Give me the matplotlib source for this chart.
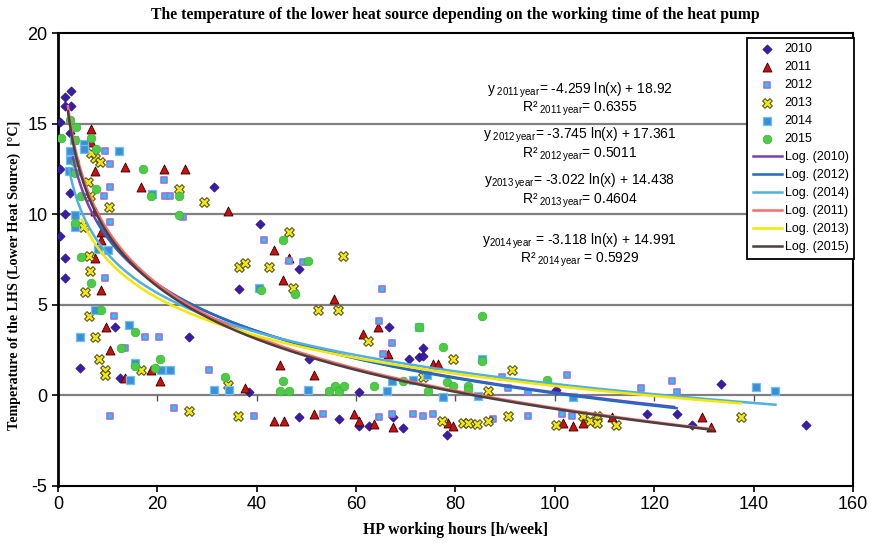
import matplotlib
matplotlib.use("Agg")
import matplotlib.pyplot as plt
import numpy as np

x2010 = [2.6, 1.5, 1.4, 2.6, 0.4, 2.4, 0.4, 2.4, 1.4, 0.4, 1.5, 1.4, 31.4, 11.5, 4.4, 12.5, 26.4, 40.6, 48.5, 36.4,
         50.5, 38.4, 60.6, 48.5, 56.5, 60.6, 62.5, 66.6, 73.4, 70.6, 72.6, 73.4, 67.4, 69.4, 78.3, 100.3, 118.5,
         124.5, 127.7, 133.5, 150.6]
y2010 = [16.8, 16.5, 16.0, 16.0, 15.1, 14.5, 12.5, 11.2, 10.0, 8.8, 7.6, 6.5, 11.5, 3.8, 1.5, 0.95, 3.2, 9.45, 7.0, 5.9,
         2.0, 0.2, 0.2, -1.2, -1.3, -1.7, -1.7, 3.8, 2.6, 2.0, 2.1, 2.2, -1.2, -1.8, -2.2, 0.28, -1.0,
         -1.0, -1.66, 0.65, -1.66]

x2011 = [6.6, 6.6, 13.5, 21.3, 25.6, 7.4, 16.7, 7.4, 34.2, 8.7, 8.7, 7.4, 8.6, 9.6, 10.5, 18.7, 20.5, 13.5, 43.5, 46.5,
         45.3, 55.5, 64.4, 61.3, 66.4, 44.7, 51.5, 37.6, 43.5, 45.5, 51.5, 59.6, 60.6, 63.6, 67.4, 75.5, 76.5, 78.5,
         79.5, 101.6, 103.6, 105.6, 111.5, 129.6, 131.5]
y2011 = [14.7, 14.0, 12.6, 12.5, 12.5, 12.4, 11.5, 10.2, 10.2, 9.0, 8.6, 7.6, 5.8, 3.8, 2.5, 1.4, 0.8, 0.95, 8.0, 7.6,
         6.35, 5.3, 3.8, 3.4, 2.3, 1.7, 1.1, 0.4, -1.4, -1.4, -1.0, -1.0, -1.4, -1.6, -1.75, 1.75, 1.75, -1.55,
         -1.7, -1.55, -1.7, -1.55, -1.2, -1.2, -1.75]

x2012 = [9.5, 10.5, 10.5, 9.3, 21.3, 21.5, 22.5, 10.5, 25.2, 9.5, 11.3, 17.5, 20.4, 13.5, 30.4, 23.3, 10.5, 41.4, 46.5,
         49.3, 65.3, 64.6, 67.3, 65.4, 39.4, 53.3, 64.6, 67.3, 71.4, 73.4, 75.5, 89.3, 90.5, 94.5, 102.4, 94.5, 87.5,
         101.5, 103.5, 117.4, 123.5, 124.5]
y2012 = [13.5, 12.8, 11.5, 11.0, 11.9, 11.0, 11.0, 9.6, 9.85, 6.5, 4.4, 3.2, 3.2, 2.6, 1.4, -0.7, -1.15, 8.6, 7.4,
         7.35, 5.9, 4.1, 2.9, 2.3, -1.15, -1.0, -1.2, -1.0, -1.0, -1.15, -1.0, 1.0, 0.4, 0.2, 1.1, -1.15, -1.3,
         -1.0, -1.15, 0.4, 0.8, 0.2]

x2013 = [7.4, 8.4, 6.6, 6.1, 6.4, 10.3, 24.3, 29.4, 6.2, 6.4, 5.0, 5.4, 6.3, 7.4, 8.3, 9.5, 9.5, 16.7, 34.2, 26.4,
         46.5, 36.4, 37.6, 42.5, 47.3, 57.3, 52.3, 56.3, 62.3, 73.4, 36.2, 77.2, 79.5, 91.3, 86.5, 81.5, 82.5, 84.4,
         86.5, 90.5, 100.3, 105.6, 107.0, 108.4, 108.4, 112.4, 137.4]
y2013 = [13.1, 12.9, 13.4, 11.8, 11.0, 10.4, 11.4, 10.7, 7.7, 6.85, 9.3, 5.7, 4.4, 3.2, 2.0, 1.4, 1.1, 1.4, 0.55, -0.87,
         9.0, 7.1, 7.3, 7.1, 5.95, 7.7, 4.7, 4.7, 3.0, 1.0, -1.15, -1.4, 2.0, 1.4, 0.24, -1.55, -1.5, -1.6,
         -1.4, -1.15, -1.65, -1.15, -1.4, -1.15, -1.55, -1.65, -1.2]

x2014 = [12.3, 5.2, 5.2, 2.4, 2.4, 3.2, 2.2, 3.4, 3.4, 18.9, 8.0, 10.0, 7.4, 4.4, 14.3, 15.5, 14.5, 20.7, 22.5, 31.4,
         34.4, 50.4, 40.5, 66.3, 67.3, 71.4, 72.7, 77.5, 74.2, 85.4, 84.6, 103.7, 140.4, 144.4]
y2014 = [13.5, 13.9, 13.6, 13.5, 13.0, 14.1, 12.4, 9.95, 9.3, 11.1, 8.1, 8.0, 4.7, 3.25, 3.9, 1.8, 0.87, 1.4, 1.4, 0.28,
         0.28, 0.28, 5.95, 0.24, 0.8, 0.87, 3.8, -0.1, 1.1, 2.0, -0.05, -0.1, 0.46, 0.24]

x2015 = [2.4, 3.6, 0.6, 3.4, 6.6, 7.6, 3.4, 3.4, 7.6, 4.6, 17.2, 18.7, 24.4, 24.4, 3.4, 4.6, 6.6, 8.6, 15.5, 12.7,
         20.5, 15.5, 19.5, 33.6, 45.3, 50.4, 40.8, 47.7, 45.3, 44.7, 46.5, 54.6, 55.7, 56.6, 57.6, 63.6, 72.7, 69.5,
         77.5, 74.5, 78.2, 85.4, 85.4, 79.5, 82.6, 82.6, 98.5]
y2015 = [15.2, 14.8, 14.2, 14.1, 14.2, 13.6, 12.9, 12.3, 11.4, 11.0, 12.5, 11.0, 11.0, 9.95, 9.5, 7.65, 6.2, 4.7, 3.5, 2.6,
         2.0, 1.6, 1.5, 1.0, 8.6, 7.4, 5.8, 5.6, 0.8, 0.24, 0.24, 0.24, 0.5, 0.24, 0.5, 0.5, 3.8, 0.8,
         2.7, 0.24, 0.73, 4.4, 1.9, 0.5, 0.5, 0.28, 0.86]

# log trendlines  y = a*ln(x) + b, drawn from x_start to x_end (legend order)
trend_years = ["2010", "2012", "2014", "2011", "2013", "2015"]
trend_a = [-3.7, -3.745, -3.118, -4.259, -3.022, -4.2]
trend_b = [17.2, 17.361, 14.991, 18.92, 14.438, 18.6]
trend_start = [3.0, 8.0, 2.2, 2.0, 4.8, 2.0]
trend_end = [124.0, 124.5, 144.4, 131.5, 137.4, 131.5]
trend_colors = ["#7b3fb5", "#1f6cc0", "#4fb0e2", "#ff6a6a", "#f5e800", "#4a4040"]

# equation labels (one block per fitted year)
equations = [
    r"y$_{\rm\ 2011\,year}$= -4.259 ln(x) + 18.92" + "\n" + r"R²$_{\rm\ 2011\,year}$= 0.6355",
    r"y$_{\rm\ 2012\,year}$= -3.745 ln(x) + 17.361" + "\n" + r"R²$_{\rm\ 2012\,year}$= 0.5011",
    r"y$_{\rm 2013\,year}$= -3.022 ln(x) + 14.438" + "\n" + r"R²$_{\rm\ 2013\,year}$= 0.4604",
    r"y$_{\rm 2014\,year}$ = -3.118 ln(x) + 14.991" + "\n" + r"R²$_{\rm\ 2014\,year}$ = 0.5929",
]
eq_y = [16.34, 13.84, 11.3, 7.99]

xticks = [0, 20, 40, 60, 80, 100, 120, 140, 160]
yticks = [-5, 0, 5, 10, 15, 20]

plt.rcParams["font.family"] = ["Liberation Sans", "DejaVu Sans"]
plt.rcParams["mathtext.fontset"] = "custom"
plt.rcParams["mathtext.rm"] = "Liberation Sans"
plt.rcParams["mathtext.it"] = "Liberation Sans"
plt.rcParams["axes.unicode_minus"] = False

fig = plt.figure(figsize=(8.71, 5.43), dpi=100)
ax = fig.add_axes([0.0666, 0.105, 0.9127, 0.834])

for gy in yticks[1:-1]:
    ax.axhline(gy, color="#7f7f7f", lw=1.6, zorder=1)

ax.scatter(x2010, y2010, marker="D", s=22, color="#3a1ca8", edgecolors="#2a1080", linewidths=0.5, zorder=3, label="2010")
ax.scatter(x2011, y2011, marker="^", s=42, color="#cc1010", edgecolors="#300000", linewidths=0.6, zorder=3, label="2011")
ax.scatter(x2012, y2012, marker="s", s=22, color="#2fc0ee", edgecolors="#a070d8", linewidths=1.2, zorder=3, label="2012")
ax.scatter(x2013, y2013, marker="X", s=50, color="#f2e51a", edgecolors="#333300", linewidths=0.6, zorder=3, label="2013")
ax.scatter(x2014, y2014, marker="s", s=28, color="#3a8fd8", edgecolors="#6fc0f0", linewidths=0.9, zorder=3, label="2014")
ax.scatter(x2015, y2015, marker="o", s=40, color="#4ccc44", edgecolors="#3aa838", linewidths=0.4, zorder=3, label="2015")

for yr, a, b, x0, x1, c in zip(trend_years, trend_a, trend_b, trend_start, trend_end, trend_colors):
    xs = np.geomspace(x0, x1, 300)
    ax.plot(xs, a * np.log(xs) + b, color=c, lw=1.8, zorder=4, label="Log. (" + yr + ")")

# small ticks hanging from the zero line
ax.plot(xticks[1:-1], np.zeros(len(xticks) - 2), ls="none", marker=3, ms=4, color="#555555", zorder=2)

for txt, ty in zip(equations, eq_y):
    ax.text(105, ty, txt, ha="center", va="center", multialignment="center",
            fontsize=10, linespacing=1.0, zorder=5)

ax.set_xlim(0, 160)
ax.set_ylim(-5, 20)
ax.set_xticks(xticks)
ax.set_yticks(yticks)
ax.tick_params(labelsize=13, length=4, width=1.2, direction="out")
for side in ["left", "bottom", "top", "right"]:
    ax.spines[side].set_linewidth(1.5)
ax.spines["left"].set_linewidth(2)

ax.set_title("The temperature of the lower heat source depending on the working time of the heat pump",
             family="Liberation Serif", fontweight="bold", fontsize=11.3, pad=10)
ax.set_xlabel("HP working hours [h/week]", family="Liberation Serif", fontweight="bold", fontsize=11.3, labelpad=6)
ax.set_ylabel("Temperature of the LHS (Lower Heat Source)  [\u00b0C]", family="Liberation Serif",
              fontweight="bold", fontsize=10.2, labelpad=4)
ax.yaxis.set_label_coords(-0.046, 0.465)

leg = ax.legend(loc="upper right", bbox_to_anchor=(0.988, 0.942), bbox_transform=fig.transFigure,
                fontsize=9, frameon=True, fancybox=False, edgecolor="black", framealpha=1,
                handlelength=2.3, handletextpad=0.25, labelspacing=0.48, borderpad=0.45, scatterpoints=1)
leg.get_frame().set_linewidth(1.3)
leg.set_zorder(6)

fig.savefig("out.png", dpi=100)
